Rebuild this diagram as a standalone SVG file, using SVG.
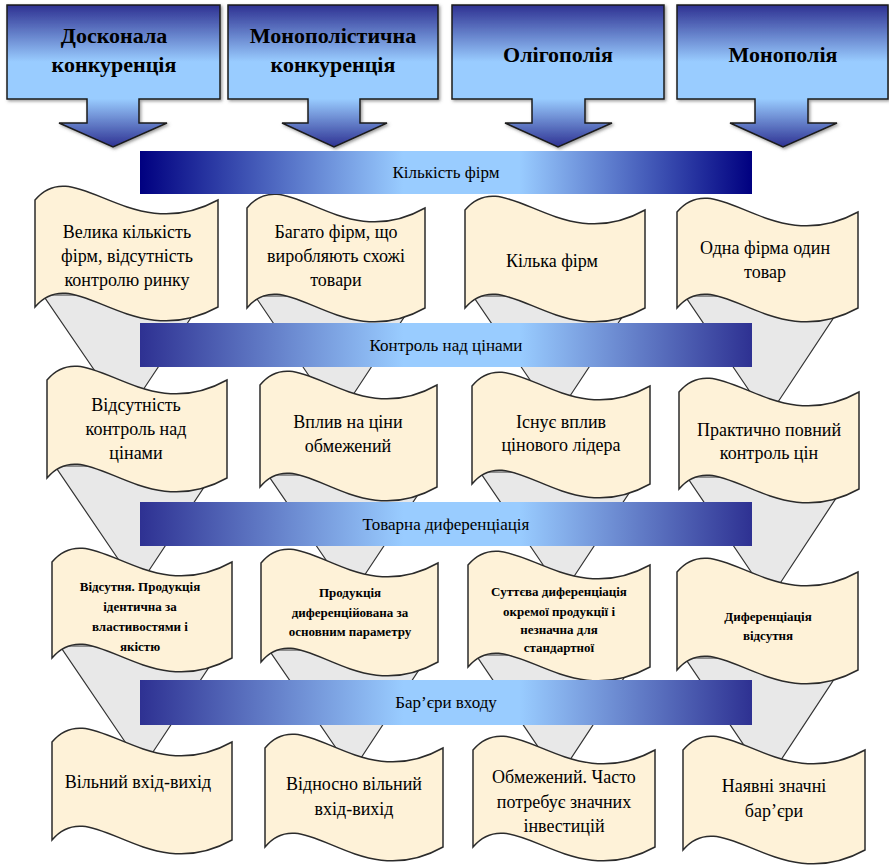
<svg xmlns="http://www.w3.org/2000/svg" width="889" height="866" viewBox="0 0 889 866">
<defs>
<linearGradient id="hdrGrad" x1="0" y1="0" x2="0" y2="1">
<stop offset="0" stop-color="#2E3192"/>
<stop offset="0.4" stop-color="#99CCFF"/>
<stop offset="0.66" stop-color="#99CCFF"/>
<stop offset="1" stop-color="#2E3192"/>
</linearGradient>
<linearGradient id="bar1Grad" x1="0" y1="0" x2="1" y2="0">
<stop offset="0" stop-color="#000080"/>
<stop offset="0.43" stop-color="#99CCFF"/>
<stop offset="0.62" stop-color="#99CCFF"/>
<stop offset="1" stop-color="#000080"/>
</linearGradient>
<linearGradient id="barGrad" x1="0" y1="0" x2="1" y2="0">
<stop offset="0" stop-color="#2E3192"/>
<stop offset="0.43" stop-color="#99CCFF"/>
<stop offset="0.62" stop-color="#99CCFF"/>
<stop offset="1" stop-color="#2E3192"/>
</linearGradient>
<filter id="shadow" x="-10%" y="-10%" width="120%" height="120%">
<feDropShadow dx="1.5" dy="1.5" stdDeviation="1.5" flood-color="#555" flood-opacity="0.6"/>
</filter>
</defs>
<style>
text{font-family:"Liberation Serif","DejaVu Serif",serif;fill:#000;text-anchor:middle}
.hdr{fill:url(#hdrGrad);stroke:#1a1a1a;stroke-width:1.5;filter:url(#shadow)}
.hdrText{font-weight:bold;font-size:22px}
.barText{font-size:17px}
.card{fill:#FEF2D8;stroke:#2b2b2b;stroke-width:1.5}
.rib{fill:#E8E8E8;stroke:#333;stroke-width:1.2}
.t{font-size:18px}
.ts{font-size:13px;font-weight:bold}
</style>

<!-- Headers -->
<g id="hdr1">
<path class="hdr" d="M7,5 H220 V99 H139 V123 H167 L113,147 L59,123 H87 V99 H7 Z"/>
<text class="hdrText" x="114" y="43">Досконала</text>
<text class="hdrText" x="114" y="72">конкуренція</text>
</g>
<g id="hdr2">
<path class="hdr" d="M228,5 H438 V99 H360 V123 H387 L334,147 L282,123 H308 V99 H228 Z"/>
<text class="hdrText" x="333" y="43">Монополістична</text>
<text class="hdrText" x="333" y="72">конкуренція</text>
</g>
<g id="hdr3">
<path class="hdr" d="M452,5 H664 V99 H585 V123 H612 L558,147 L505,123 H532 V99 H452 Z"/>
<text class="hdrText" x="558" y="62">Олігополія</text>
</g>
<g id="hdr4">
<path class="hdr" d="M677,5 H888 V99 H808 V123 H837 L783,147 L730,123 H755 V99 H677 Z"/>
<text class="hdrText" x="783" y="62">Монополія</text>
</g>

<!-- Connecting ribbons -->
<g id="connectors">
<polygon class="rib" points="43,295 206,295 139,396 112,396"/>
<polygon class="rib" points="55,466 218,466 144,578 131,578"/>
<polygon class="rib" points="60,646 223,646 149,758 136,758"/>
<polygon class="rib" points="255,296 418,296 349,401 326,401"/>
<polygon class="rib" points="268,475 431,475 362,579 339,579"/>
<polygon class="rib" points="269,650 432,650 357,764 347,764"/>
<polygon class="rib" points="473,296 636,296 566,402 545,402"/>
<polygon class="rib" points="480,472 643,472 571,581 554,581"/>
<polygon class="rib" points="476,655 639,655 566,766 551,766"/>
<polygon class="rib" points="685,296 848,296 774,408 761,408"/>
<polygon class="rib" points="687,477 850,477 777,588 762,588"/>
<polygon class="rib" points="685,658 848,658 777,766 758,766"/>
</g>

<!-- Row 1 -->
<g id="c11">
<path class="card" d="M35,200 C75,152 130,248 218,200 L218,307 C130,355 75,259 35,307 Z"/>
<text class="t" x="127" y="238">Велика кількість</text>
<text class="t" x="127" y="262">фірм, відсутність</text>
<text class="t" x="127" y="286">контролю ринку</text>
</g>
<g id="c12">
<path class="card" d="M247,208 C286,160 340,256 425,208 L425,308 C340,356 286,260 247,308 Z"/>
<text class="t" x="336" y="238">Багато фірм, що</text>
<text class="t" x="336" y="262">виробляють схожі</text>
<text class="t" x="336" y="286">товари</text>
</g>
<g id="c13">
<path class="card" d="M465,210 C505,162 559,258 645,210 L645,308 C559,356 505,260 465,308 Z"/>
<text class="t" x="552" y="267">Кілька фірм</text>
</g>
<g id="c14">
<path class="card" d="M677,212 C717,164 771,260 858,212 L858,308 C771,356 717,260 677,308 Z"/>
<text class="t" x="765" y="254">Одна фірма один</text>
<text class="t" x="765" y="278">товар</text>
</g>

<!-- Row 2 -->
<g id="c21">
<path class="card" d="M47,380 C87,332 141,428 227,380 L227,478 C141,526 87,430 47,478 Z"/>
<text class="t" x="136" y="411">Відсутність</text>
<text class="t" x="136" y="435">контроль над</text>
<text class="t" x="136" y="459">цінами</text>
</g>
<g id="c22">
<path class="card" d="M260,385 C299,337 352,433 437,385 L437,487 C352,535 299,439 260,487 Z"/>
<text class="t" x="348" y="428">Вплив на ціни</text>
<text class="t" x="348" y="452">обмежений</text>
</g>
<g id="c23">
<path class="card" d="M472,386 C511,338 565,434 650,386 L650,484 C565,532 511,436 472,484 Z"/>
<text class="t" x="561" y="428">Існує вплив</text>
<text class="t" x="561" y="451">цінового лідера</text>
</g>
<g id="c24">
<path class="card" d="M679,392 C719,344 773,440 859,392 L859,489 C773,537 719,441 679,489 Z"/>
<text class="t" x="769" y="436">Практично повний</text>
<text class="t" x="769" y="459">контроль цін</text>
</g>

<!-- Row 3 -->
<g id="c31">
<path class="card" d="M52,562 C92,514 146,610 232,562 L232,658 C146,706 92,610 52,658 Z"/>
<text class="ts" x="140" y="591">Відсутня. Продукція</text>
<text class="ts" x="140" y="611">ідентична за</text>
<text class="ts" x="140" y="631">властивостями і</text>
<text class="ts" x="140" y="651">якістю</text>
</g>
<g id="c32">
<path class="card" d="M261,563 C300,515 353,611 438,563 L438,662 C353,710 300,614 261,662 Z"/>
<text class="ts" x="350" y="597">Продукція</text>
<text class="ts" x="350" y="617">диференційована за</text>
<text class="ts" x="350" y="636">основним параметру</text>
</g>
<g id="c33">
<path class="card" d="M468,565 C508,517 563,613 650,565 L650,667 C563,715 508,619 468,667 Z"/>
<text class="ts" x="559" y="596">Суттєва диференціація</text>
<text class="ts" x="559" y="616">окремої продукції і</text>
<text class="ts" x="559" y="634">незначна для</text>
<text class="ts" x="559" y="652">стандартної</text>
</g>
<g id="c34">
<path class="card" d="M677,572 C717,524 771,620 858,572 L858,670 C771,718 717,622 677,670 Z"/>
<text class="ts" x="768" y="621">Диференціація</text>
<text class="ts" x="768" y="640">відсутня</text>
</g>

<!-- Row 4 -->
<g id="c41">
<path class="card" d="M52,742 C92,694 146,790 232,742 L232,840 C146,888 92,792 52,840 Z"/>
<text class="t" x="138" y="788">Вільний вхід-вихід</text>
</g>
<g id="c42">
<path class="card" d="M265,748 C304,700 358,796 443,748 L443,847 C358,895 304,799 265,847 Z"/>
<text class="t" x="354" y="790">Відносно вільний</text>
<text class="t" x="354" y="815">вхід-вихід</text>
</g>
<g id="c43">
<path class="card" d="M473,750 C513,702 568,798 655,750 L655,847 C568,895 513,799 473,847 Z"/>
<text class="t" x="564" y="783">Обмежений. Часто</text>
<text class="t" x="564" y="808">потребує значних</text>
<text class="t" x="564" y="832">інвестицій</text>
</g>
<g id="c44">
<path class="card" d="M683,750 C723,702 778,798 865,750 L865,850 C778,898 723,802 683,850 Z"/>
<text class="t" x="774" y="792">Наявні значні</text>
<text class="t" x="774" y="817">бар’єри</text>
</g>

<!-- Bars -->
<g id="bar1">
<rect x="140" y="151" width="612" height="43" fill="url(#bar1Grad)"/>
<text class="barText" x="446" y="178">Кількість фірм</text>
</g>
<g id="bar2">
<rect x="140" y="323" width="612" height="44" fill="url(#barGrad)"/>
<text class="barText" x="446" y="351">Контроль над цінами</text>
</g>
<g id="bar3">
<rect x="140" y="502" width="612" height="44" fill="url(#barGrad)"/>
<text class="barText" x="446" y="530">Товарна диференціація</text>
</g>
<g id="bar4">
<rect x="140" y="680" width="612" height="45" fill="url(#barGrad)"/>
<text class="barText" x="446" y="708">Бар’єри входу</text>
</g>
</svg>
